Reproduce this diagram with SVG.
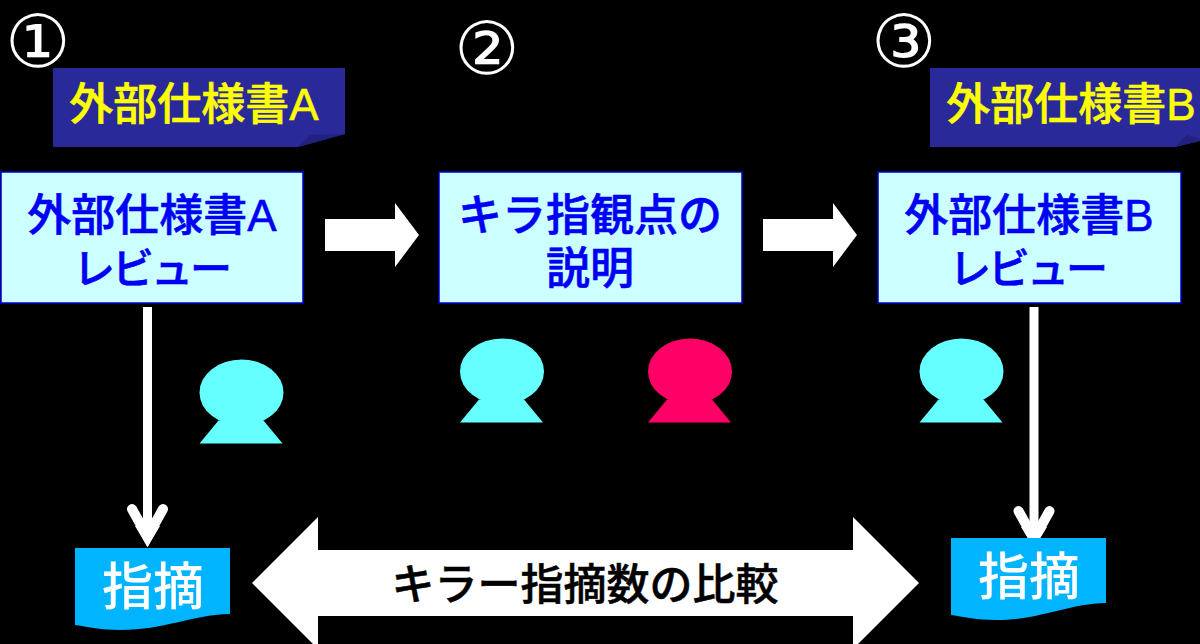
<svg xmlns="http://www.w3.org/2000/svg" width="1200" height="644" viewBox="0 0 1200 644">
<style>
text{font-family:"Liberation Sans","Noto Sans CJK JP",sans-serif;text-anchor:middle}
.cmp{font-size:43px;font-weight:500;fill:#000;stroke:#000;stroke-width:.5}
.num{fill:#fff;font-size:73px;font-weight:400;font-family:"DejaVu Sans","Noto Sans CJK JP",sans-serif}
.doc{fill:#ff0;font-size:44px;font-weight:500;stroke:#ff0;stroke-width:.6}
.box{fill:#ccffff;stroke:#0000cc;stroke-width:1.5}
.boxt{fill:#0000f5;font-size:44px;font-weight:500;stroke:#0000f5;stroke-width:.6}
.kana{letter-spacing:-3px;font-size:42px}
.note{fill:#00b4ff}
.notet{fill:#fff;font-size:51px;font-weight:500}
.navy{fill:#292999}
.fold{fill:#212180}
.w{fill:#fff}
.line{stroke:#fff;stroke-width:9;fill:none}
.head{stroke:#fff;stroke-width:10;fill:none;stroke-linecap:round;stroke-linejoin:miter}
</style>
<defs>
<g id="person"><ellipse cx="42" cy="33" rx="42" ry="33"/><path d="M19 61 L0 84 H83 L64 61Z"/></g>
</defs>
<rect width="1200" height="644" fill="#000"/>
<g id="connectors">
<path class="w" d="M325 219H395V203L419 235L395 267V251H325Z"/>
<path class="w" d="M763 219H833V203L857 235L833 267V251H763Z"/>
<path class="line" d="M147.500 307V535"/>
<path class="head" d="M132 509L147.500 537L163 509"/>
<path class="w" d="M147.500 547L135 526H160Z"/>
<path class="line" d="M1034 307V535"/>
<path class="head" d="M1018.500 511L1034 539L1049.500 511"/>
<path class="w" d="M1034 548L1021 527H1047Z"/>
<path class="w" d="M252 583L318 517V550H853V517L919 583L853 649V616H318V649Z"/>
<text x="585" y="600" class="cmp">キラー指摘数の比較</text>
</g>
<g id="n1"><text x="38" y="67" class="num">①</text></g>
<g id="n2"><text x="487" y="74" class="num">②</text></g>
<g id="n3"><text x="904" y="67" class="num">③</text></g>
<g id="docA">
<path class="navy" d="M53 68H345V134L298 147H53Z"/>
<path class="fold" d="M298 147L310 135L345 134Z"/>
<text x="194" y="120" class="doc">外部仕様書A</text>
</g>
<g id="docB">
<path class="navy" d="M930 68H1200V141L1175 147H930Z"/>
<path class="fold" d="M1175 147L1187 135L1200 139V141Z"/>
<text x="1071" y="120" class="doc">外部仕様書B</text>
</g>
<g id="reviewA">
<rect class="box" x="1" y="172" width="302" height="131"/>
<text x="152" y="231" class="boxt">外部仕様書A</text>
<text x="151" y="284" class="boxt kana">レビュー</text>
</g>
<g id="explain">
<rect class="box" x="439" y="172" width="303" height="131"/>
<text x="590" y="231" class="boxt">キラ指観点の</text>
<text x="590" y="284" class="boxt">説明</text>
</g>
<g id="reviewB">
<rect class="box" x="878" y="172" width="303" height="131"/>
<text x="1029" y="231" class="boxt">外部仕様書B</text>
<text x="1027" y="284" class="boxt kana">レビュー</text>
</g>
<g id="p1" fill="#66ffff" transform="translate(199.500,359.500)"><use href="#person"/></g>
<g id="p2" fill="#66ffff" transform="translate(460,338.500)"><use href="#person"/></g>
<g id="p3" fill="#ff0066" transform="translate(648,338.500)"><use href="#person"/></g>
<g id="p4" fill="#66ffff" transform="translate(919.500,338.500)"><use href="#person"/></g>
<g id="noteA">
<path class="note" d="M75 548H230V614C190 615 165 630 120 630C100 630 90 627 75 625Z"/>
<text x="153" y="605" class="notet">指摘</text>
</g>
<g id="noteB">
<path class="note" d="M951 538H1106V603C1066 604 1041 620 996 620C976 620 966 617 951 615Z"/>
<text x="1029" y="595" class="notet">指摘</text>
</g>
</svg>
